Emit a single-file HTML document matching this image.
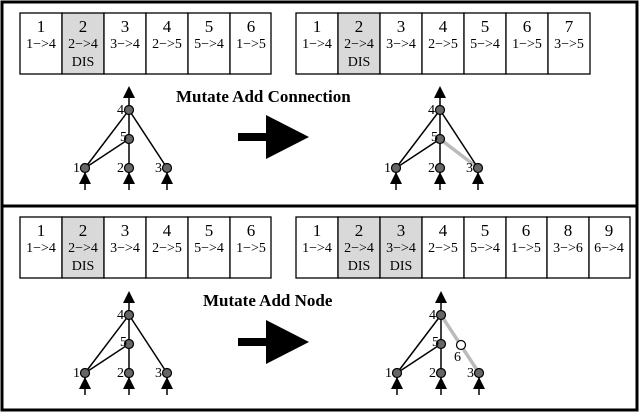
<!DOCTYPE html>
<html><head><meta charset="utf-8"><style>
html,body{margin:0;padding:0;background:#fff}
svg{display:block}
text{font-family:"Liberation Serif",serif;fill:#000}
.n{font-size:17px;text-anchor:middle}
.c{font-size:14px;text-anchor:middle}
.l{font-size:14px;text-anchor:end}
</style></head><body>
<svg width="640" height="413" viewBox="0 0 640 413" xmlns="http://www.w3.org/2000/svg">
<rect x="2" y="2" width="635" height="408" fill="none" stroke="#000" stroke-width="3"/>
<line x1="2" y1="206" x2="637" y2="206" stroke="#000" stroke-width="3"/>

<!-- Top-left genome -->
<g stroke="#000" stroke-width="1.3">
<rect x="20" y="13" width="42" height="61" fill="#fff"/>
<rect x="62" y="13" width="42" height="61" fill="#d9d9d9"/>
<rect x="104" y="13" width="42" height="61" fill="#fff"/>
<rect x="146" y="13" width="42" height="61" fill="#fff"/>
<rect x="188" y="13" width="42" height="61" fill="#fff"/>
<rect x="230" y="13" width="41" height="61" fill="#fff"/>
</g>
<text class="n" x="41" y="32">1</text><text class="c" x="41" y="48">1−&gt;4</text>
<text class="n" x="83" y="32">2</text><text class="c" x="83" y="48">2−&gt;4</text><text class="c" x="83" y="66">DIS</text>
<text class="n" x="125" y="32">3</text><text class="c" x="125" y="48">3−&gt;4</text>
<text class="n" x="167" y="32">4</text><text class="c" x="167" y="48">2−&gt;5</text>
<text class="n" x="209" y="32">5</text><text class="c" x="209" y="48">5−&gt;4</text>
<text class="n" x="251" y="32">6</text><text class="c" x="251" y="48">1−&gt;5</text>

<!-- Top-right genome -->
<g stroke="#000" stroke-width="1.3">
<rect x="296" y="13" width="42" height="61" fill="#fff"/>
<rect x="338" y="13" width="42" height="61" fill="#d9d9d9"/>
<rect x="380" y="13" width="42" height="61" fill="#fff"/>
<rect x="422" y="13" width="42" height="61" fill="#fff"/>
<rect x="464" y="13" width="42" height="61" fill="#fff"/>
<rect x="506" y="13" width="42" height="61" fill="#fff"/>
<rect x="548" y="13" width="42" height="61" fill="#fff"/>
</g>
<text class="n" x="317" y="32">1</text><text class="c" x="317" y="48">1−&gt;4</text>
<text class="n" x="359" y="32">2</text><text class="c" x="359" y="48">2−&gt;4</text><text class="c" x="359" y="66">DIS</text>
<text class="n" x="401" y="32">3</text><text class="c" x="401" y="48">3−&gt;4</text>
<text class="n" x="443" y="32">4</text><text class="c" x="443" y="48">2−&gt;5</text>
<text class="n" x="485" y="32">5</text><text class="c" x="485" y="48">5−&gt;4</text>
<text class="n" x="527" y="32">6</text><text class="c" x="527" y="48">1−&gt;5</text>
<text class="n" x="569" y="32">7</text><text class="c" x="569" y="48">3−&gt;5</text>

<text x="176" y="102" style="font-size:17px;font-weight:bold">Mutate Add Connection</text>
<path d="M238,133 H266 V115 L309,137 L266,159 V141 H238 Z" fill="#000"/>

<!-- Bottom-left genome -->
<g stroke="#000" stroke-width="1.3">
<rect x="20" y="217" width="42" height="61" fill="#fff"/>
<rect x="62" y="217" width="42" height="61" fill="#d9d9d9"/>
<rect x="104" y="217" width="42" height="61" fill="#fff"/>
<rect x="146" y="217" width="42" height="61" fill="#fff"/>
<rect x="188" y="217" width="42" height="61" fill="#fff"/>
<rect x="230" y="217" width="41" height="61" fill="#fff"/>
</g>
<text class="n" x="41" y="236">1</text><text class="c" x="41" y="252">1−&gt;4</text>
<text class="n" x="83" y="236">2</text><text class="c" x="83" y="252">2−&gt;4</text><text class="c" x="83" y="270">DIS</text>
<text class="n" x="125" y="236">3</text><text class="c" x="125" y="252">3−&gt;4</text>
<text class="n" x="167" y="236">4</text><text class="c" x="167" y="252">2−&gt;5</text>
<text class="n" x="209" y="236">5</text><text class="c" x="209" y="252">5−&gt;4</text>
<text class="n" x="251" y="236">6</text><text class="c" x="251" y="252">1−&gt;5</text>

<!-- Bottom-right genome -->
<g stroke="#000" stroke-width="1.3">
<rect x="296" y="217" width="42" height="61" fill="#fff"/>
<rect x="338" y="217" width="42" height="61" fill="#d9d9d9"/>
<rect x="380" y="217" width="42" height="61" fill="#d9d9d9"/>
<rect x="422" y="217" width="42" height="61" fill="#fff"/>
<rect x="464" y="217" width="42" height="61" fill="#fff"/>
<rect x="506" y="217" width="41" height="61" fill="#fff"/>
<rect x="547" y="217" width="42" height="61" fill="#fff"/>
<rect x="589" y="217" width="41" height="61" fill="#fff"/>
</g>
<text class="n" x="317" y="236">1</text><text class="c" x="317" y="252">1−&gt;4</text>
<text class="n" x="359" y="236">2</text><text class="c" x="359" y="252">2−&gt;4</text><text class="c" x="359" y="270">DIS</text>
<text class="n" x="401" y="236">3</text><text class="c" x="401" y="252">3−&gt;4</text><text class="c" x="401" y="270">DIS</text>
<text class="n" x="443" y="236">4</text><text class="c" x="443" y="252">2−&gt;5</text>
<text class="n" x="485" y="236">5</text><text class="c" x="485" y="252">5−&gt;4</text>
<text class="n" x="526" y="236">6</text><text class="c" x="526" y="252">1−&gt;5</text>
<text class="n" x="568" y="236">8</text><text class="c" x="568" y="252">3−&gt;6</text>
<text class="n" x="609" y="236">9</text><text class="c" x="609" y="252">6−&gt;4</text>

<text x="203" y="306" style="font-size:17px;font-weight:bold">Mutate Add Node</text>
<path d="M238,338 H266 V320 L309,342 L266,364 V346 H238 Z" fill="#000"/>

<!-- Network TL -->
<g transform="translate(129,110)">
<g stroke="#000" stroke-width="1.5" fill="none">
<line x1="0" y1="0" x2="-44" y2="58"/><line x1="0" y1="0" x2="0" y2="29"/><line x1="0" y1="0" x2="38" y2="58"/>
<line x1="0" y1="29" x2="-44" y2="58"/><line x1="0" y1="29" x2="0" y2="58"/>
<line x1="0" y1="0" x2="0" y2="-14"/>
<line x1="-44" y1="58" x2="-44" y2="80"/><line x1="0" y1="58" x2="0" y2="80"/><line x1="38" y1="58" x2="38" y2="80"/>
</g>
<path d="M-6,-12 L0,-24 L6,-12Z M-50,74 L-44,62 L-38,74Z M-6,74 L0,62 L6,74Z M32,74 L38,62 L44,74Z" fill="#000"/>
<g fill="#666" stroke="#000" stroke-width="1.2">
<circle cx="0" cy="0" r="4.5"/><circle cx="0" cy="29" r="4.5"/><circle cx="-44" cy="58" r="4.5"/><circle cx="0" cy="58" r="4.5"/><circle cx="38" cy="58" r="4.5"/>
</g>
<text class="l" x="-5" y="4">4</text><text class="l" x="-2" y="31">5</text><text class="l" x="-49" y="62">1</text><text class="l" x="-5" y="62">2</text><text class="l" x="33" y="62">3</text>
</g>

<!-- Network TR -->
<g transform="translate(440,110)">
<line x1="0" y1="29" x2="38" y2="58" stroke="#bbb" stroke-width="3.5"/>
<g stroke="#000" stroke-width="1.5" fill="none">
<line x1="0" y1="0" x2="-44" y2="58"/><line x1="0" y1="0" x2="0" y2="29"/><line x1="0" y1="0" x2="38" y2="58"/>
<line x1="0" y1="29" x2="-44" y2="58"/><line x1="0" y1="29" x2="0" y2="58"/>
<line x1="0" y1="0" x2="0" y2="-14"/>
<line x1="-44" y1="58" x2="-44" y2="80"/><line x1="0" y1="58" x2="0" y2="80"/><line x1="38" y1="58" x2="38" y2="80"/>
</g>
<path d="M-6,-12 L0,-24 L6,-12Z M-50,74 L-44,62 L-38,74Z M-6,74 L0,62 L6,74Z M32,74 L38,62 L44,74Z" fill="#000"/>
<g fill="#666" stroke="#000" stroke-width="1.2">
<circle cx="0" cy="0" r="4.5"/><circle cx="0" cy="29" r="4.5"/><circle cx="-44" cy="58" r="4.5"/><circle cx="0" cy="58" r="4.5"/><circle cx="38" cy="58" r="4.5"/>
</g>
<text class="l" x="-5" y="4">4</text><text class="l" x="-2" y="31">5</text><text class="l" x="-49" y="62">1</text><text class="l" x="-5" y="62">2</text><text class="l" x="33" y="62">3</text>
</g>

<!-- Network BL -->
<g transform="translate(129,315)">
<g stroke="#000" stroke-width="1.5" fill="none">
<line x1="0" y1="0" x2="-44" y2="58"/><line x1="0" y1="0" x2="0" y2="29"/><line x1="0" y1="0" x2="38" y2="58"/>
<line x1="0" y1="29" x2="-44" y2="58"/><line x1="0" y1="29" x2="0" y2="58"/>
<line x1="0" y1="0" x2="0" y2="-14"/>
<line x1="-44" y1="58" x2="-44" y2="80"/><line x1="0" y1="58" x2="0" y2="80"/><line x1="38" y1="58" x2="38" y2="80"/>
</g>
<path d="M-6,-12 L0,-24 L6,-12Z M-50,74 L-44,62 L-38,74Z M-6,74 L0,62 L6,74Z M32,74 L38,62 L44,74Z" fill="#000"/>
<g fill="#666" stroke="#000" stroke-width="1.2">
<circle cx="0" cy="0" r="4.5"/><circle cx="0" cy="29" r="4.5"/><circle cx="-44" cy="58" r="4.5"/><circle cx="0" cy="58" r="4.5"/><circle cx="38" cy="58" r="4.5"/>
</g>
<text class="l" x="-5" y="4">4</text><text class="l" x="-2" y="31">5</text><text class="l" x="-49" y="62">1</text><text class="l" x="-5" y="62">2</text><text class="l" x="33" y="62">3</text>
</g>

<!-- Network BR -->
<g transform="translate(441,315)">
<line x1="0" y1="0" x2="38" y2="58" stroke="#bbb" stroke-width="3.5"/>
<g stroke="#000" stroke-width="1.5" fill="none">
<line x1="0" y1="0" x2="-44" y2="58"/><line x1="0" y1="0" x2="0" y2="29"/>
<line x1="0" y1="29" x2="-44" y2="58"/><line x1="0" y1="29" x2="0" y2="58"/>
<line x1="0" y1="0" x2="0" y2="-14"/>
<line x1="-44" y1="58" x2="-44" y2="80"/><line x1="0" y1="58" x2="0" y2="80"/><line x1="38" y1="58" x2="38" y2="80"/>
</g>
<path d="M-6,-12 L0,-24 L6,-12Z M-50,74 L-44,62 L-38,74Z M-6,74 L0,62 L6,74Z M32,74 L38,62 L44,74Z" fill="#000"/>
<g fill="#666" stroke="#000" stroke-width="1.2">
<circle cx="0" cy="0" r="4.5"/><circle cx="0" cy="29" r="4.5"/><circle cx="-44" cy="58" r="4.5"/><circle cx="0" cy="58" r="4.5"/><circle cx="38" cy="58" r="4.5"/>
</g>
<circle cx="20" cy="30" r="4.5" fill="#fff" stroke="#000" stroke-width="1.2"/>
<text class="l" x="-5" y="4">4</text><text class="l" x="-2" y="31">5</text><text class="l" x="-49" y="62">1</text><text class="l" x="-5" y="62">2</text><text class="l" x="33" y="62">3</text>
<text class="l" x="20" y="46">6</text>
</g>
</svg>
</body></html>
